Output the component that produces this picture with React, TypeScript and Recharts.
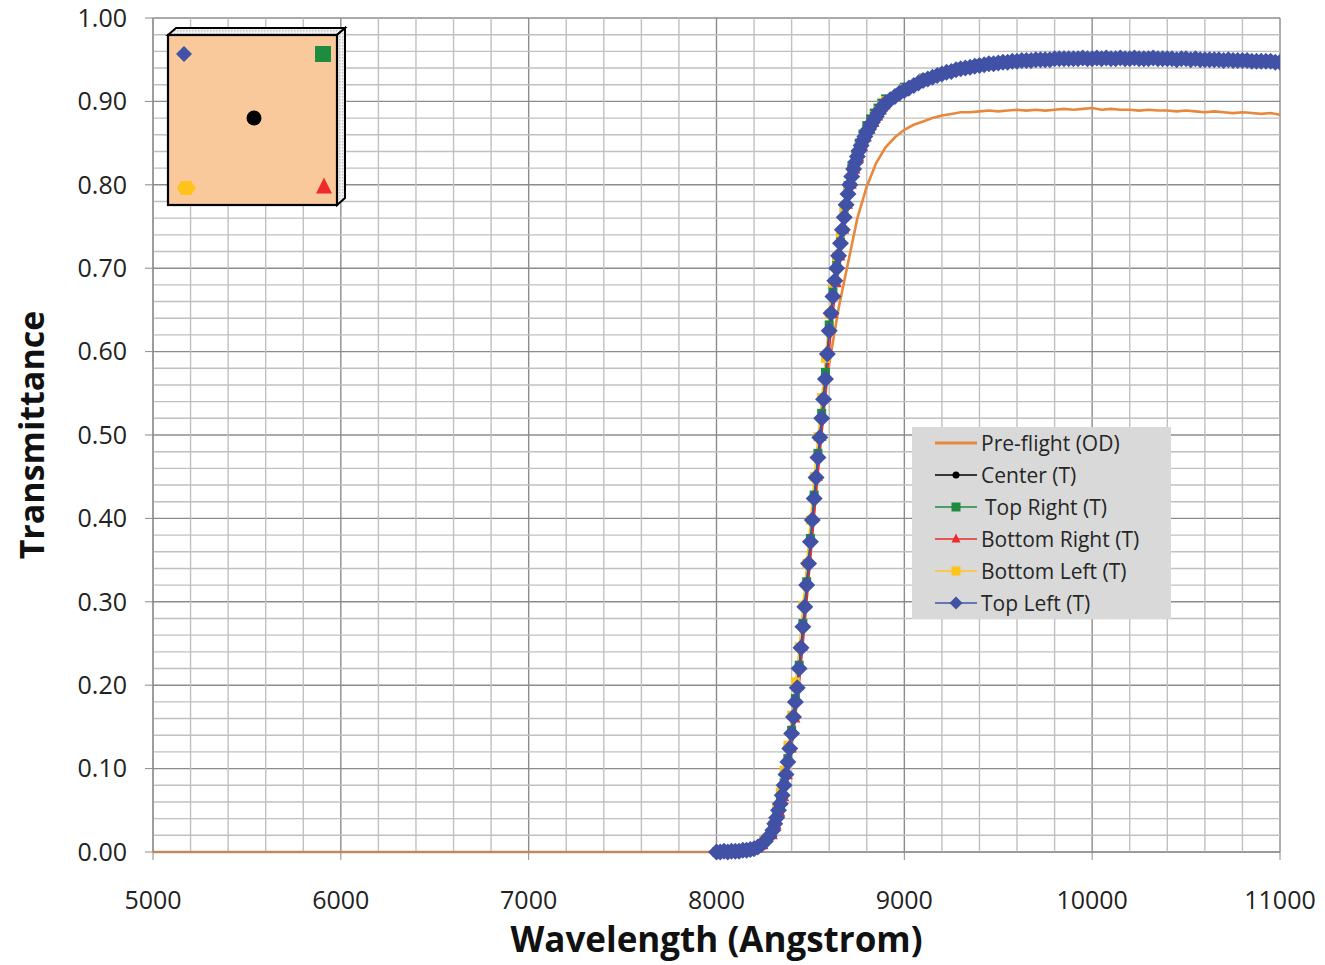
import React from "react";
import { LineChart, Line, XAxis, YAxis, CartesianGrid, ReferenceLine, Legend, Label } from "recharts";

const FONT = "'Open Sans', 'Liberation Sans', sans-serif";

// Pre-flight (OD) curve
const preflightWavelength = [
  5000, 5500, 6000, 6500, 7000, 7500, 8000, 8100, 8200, 8250, 8300, 8350, 8400, 8450, 8500, 8550, 8575,
  8600, 8650, 8700, 8750, 8800, 8850, 8900, 8950, 9000,
  9050, 9100, 9150, 9200, 9250, 9300, 9350, 9400, 9450, 9500,
  9550, 9600, 9650, 9700, 9750, 9800, 9850, 9900, 9950, 10000,
  10050, 10100, 10150, 10200, 10250, 10300, 10350, 10400, 10450, 10500,
  10550, 10600, 10650, 10700, 10750, 10800, 10850, 10900, 10950, 11000,
];
const preflightT = [
  0, 0, 0, 0, 0, 0, 0, 0.0, 0.002, 0.006, 0.022, 0.06, 0.13, 0.238, 0.362, 0.488, 0.54,
  0.585, 0.652, 0.706, 0.76, 0.798, 0.826, 0.845, 0.857, 0.866,
  0.872, 0.876, 0.88, 0.883, 0.885, 0.887, 0.887, 0.888, 0.889, 0.888,
  0.889, 0.89, 0.889, 0.89, 0.889, 0.89, 0.891, 0.89, 0.891, 0.892,
  0.89, 0.891, 0.89, 0.89, 0.889, 0.89, 0.889, 0.889, 0.888, 0.889,
  0.888, 0.887, 0.888, 0.887, 0.886, 0.887, 0.886, 0.885, 0.886, 0.884,
];

// Top Left (T), the densest series, drawn on top
const topLeftWavelength = [
  8000, 8020, 8040, 8060, 8080, 8100, 8120, 8140, 8160, 8180, 8200, 8220, 8240, 8260, 8280, 8300,
  8310, 8320, 8330, 8340, 8350, 8360, 8370, 8380, 8390, 8400,
  8410, 8420, 8430, 8440, 8450, 8460, 8470, 8480, 8490, 8500,
  8510, 8520, 8530, 8540, 8550, 8560, 8570, 8580, 8590, 8600,
  8610, 8620, 8630, 8640, 8650, 8660, 8670, 8680, 8690, 8700,
  8710, 8720, 8730, 8740, 8750, 8760, 8770, 8780, 8790, 8800,
  8810, 8820, 8830, 8840, 8850, 8860, 8870, 8880, 8890, 8900,
  8925, 8950, 8975, 9000, 9025, 9050, 9075, 9100, 9125, 9150,
  9175, 9200, 9225, 9250, 9275, 9300, 9325, 9350, 9375, 9400,
  9425, 9450, 9475, 9500, 9525, 9550, 9575, 9600, 9625, 9650,
  9675, 9700, 9725, 9750, 9775, 9800, 9825, 9850, 9875, 9900,
  9925, 9950, 9975, 10000, 10025, 10050, 10075, 10100, 10125, 10150,
  10175, 10200, 10225, 10250, 10275, 10300, 10325, 10350, 10375, 10400,
  10425, 10450, 10475, 10500, 10525, 10550, 10575, 10600, 10625, 10650,
  10675, 10700, 10725, 10750, 10775, 10800, 10825, 10850, 10875, 10900,
  10925, 10950, 10975, 11000,
];
const topLeftT = [
  0.0, 0.0, 0.001, 0.0, 0.001, 0.001, 0.001, 0.002, 0.002, 0.003, 0.004, 0.006, 0.009, 0.013, 0.019, 0.026,
  0.034, 0.041, 0.05, 0.058, 0.068, 0.08, 0.093, 0.108, 0.124, 0.142,
  0.162, 0.18, 0.197, 0.22, 0.245, 0.27, 0.294, 0.32, 0.346, 0.372,
  0.398, 0.424, 0.449, 0.473, 0.497, 0.52, 0.543, 0.567, 0.597, 0.625,
  0.646, 0.666, 0.685, 0.7, 0.715, 0.73, 0.746, 0.761, 0.776, 0.789,
  0.8, 0.81, 0.819, 0.827, 0.834, 0.841, 0.847, 0.853, 0.858, 0.863,
  0.867, 0.871, 0.875, 0.879, 0.882, 0.886, 0.889, 0.892, 0.895, 0.898,
  0.902, 0.906, 0.91, 0.913, 0.916, 0.919, 0.922, 0.925, 0.927, 0.929,
  0.931, 0.933, 0.935, 0.936, 0.938, 0.939, 0.94, 0.941, 0.942, 0.943,
  0.944, 0.945, 0.945, 0.946, 0.947, 0.947, 0.948, 0.948, 0.949, 0.949,
  0.949, 0.95, 0.95, 0.95, 0.95, 0.951, 0.951, 0.951, 0.951, 0.951,
  0.951, 0.952, 0.951, 0.951, 0.952, 0.951, 0.952, 0.951, 0.951, 0.952,
  0.951, 0.951, 0.952, 0.951, 0.951, 0.951, 0.952, 0.951, 0.951, 0.951,
  0.951, 0.95, 0.951, 0.951, 0.95, 0.951, 0.95, 0.95, 0.95, 0.95,
  0.95, 0.949, 0.95, 0.949, 0.949, 0.949, 0.949, 0.948, 0.948, 0.948,
  0.948, 0.948, 0.947, 0.947,
];

// the other four measurement points, mostly hidden under Top Left
const pointWavelength = [
  8000, 8050, 8100, 8150, 8200, 8250, 8300,
  8320, 8340, 8360, 8380, 8400, 8420, 8440, 8460, 8480, 8500,
  8520, 8540, 8560, 8580, 8600, 8620, 8640, 8660, 8680, 8700,
  8720, 8740, 8760, 8780, 8800, 8820, 8840, 8860, 8880, 8900,
  9000, 9100, 9200, 9300, 9400, 9500, 9600, 9700, 9800, 9900,
  10000, 10100, 10200, 10300, 10400, 10500, 10600, 10700, 10800, 10900, 11000,
];
const centerT = [
  0.0, 0.001, 0.001, 0.002, 0.004, 0.011, 0.027,
  0.042, 0.06, 0.082, 0.11, 0.144, 0.182, 0.222, 0.272, 0.322, 0.374,
  0.426, 0.475, 0.522, 0.57, 0.627, 0.668, 0.702, 0.732, 0.763, 0.791,
  0.812, 0.829, 0.843, 0.855, 0.865, 0.873, 0.881, 0.888, 0.894, 0.9,
  0.914, 0.926, 0.934, 0.94, 0.944, 0.947, 0.949, 0.95, 0.951, 0.951,
  0.952, 0.952, 0.952, 0.951, 0.951, 0.951, 0.95, 0.95, 0.949, 0.948, 0.947,
];
const topRightT = [
  0.0, 0.001, 0.001, 0.002, 0.005, 0.012, 0.028,
  0.043, 0.061, 0.083, 0.112, 0.146, 0.184, 0.224, 0.274, 0.324, 0.376,
  0.428, 0.478, 0.526, 0.575, 0.632, 0.674, 0.709, 0.74, 0.771, 0.799,
  0.82, 0.836, 0.85, 0.861, 0.871, 0.879, 0.886, 0.892, 0.898, 0.903,
  0.917, 0.928, 0.935, 0.941, 0.945, 0.947, 0.949, 0.95, 0.951, 0.951,
  0.951, 0.952, 0.951, 0.951, 0.951, 0.95, 0.95, 0.949, 0.949, 0.948, 0.947,
];
const bottomRightT = [
  0.0, 0.0, 0.001, 0.001, 0.003, 0.008, 0.02,
  0.032, 0.047, 0.066, 0.092, 0.124, 0.16, 0.199, 0.246, 0.296, 0.348,
  0.4, 0.45, 0.498, 0.545, 0.6, 0.645, 0.682, 0.714, 0.746, 0.776,
  0.8, 0.818, 0.833, 0.846, 0.857, 0.866, 0.874, 0.882, 0.889, 0.895,
  0.911, 0.924, 0.933, 0.939, 0.943, 0.946, 0.948, 0.949, 0.95, 0.95,
  0.95, 0.95, 0.95, 0.95, 0.95, 0.949, 0.949, 0.948, 0.947, 0.946, 0.945,
];
const bottomLeftT = [
  0.0, 0.001, 0.001, 0.002, 0.005, 0.014, 0.033,
  0.052, 0.072, 0.098, 0.128, 0.164, 0.204, 0.246, 0.296, 0.346, 0.398,
  0.45, 0.498, 0.545, 0.592, 0.645, 0.682, 0.714, 0.742, 0.771, 0.797,
  0.817, 0.833, 0.846, 0.857, 0.867, 0.875, 0.883, 0.889, 0.895, 0.901,
  0.915, 0.927, 0.935, 0.94, 0.944, 0.947, 0.949, 0.95, 0.951, 0.951,
  0.951, 0.951, 0.951, 0.951, 0.951, 0.95, 0.95, 0.949, 0.948, 0.948, 0.947,
];

const xTicks = [5000, 6000, 7000, 8000, 9000, 10000, 11000];
const yTicks = [0, 0.1, 0.2, 0.3, 0.4, 0.5, 0.6, 0.7, 0.8, 0.9, 1.0];

const ORANGE = "#E8883C";
const BLACK = "#000000";
const GREEN = "#1F8B41";
const RED = "#EE2A2A";
const YELLOW = "#FFC41A";
const BLUE = "#4152A6";

const MAJOR = "#8c8c8c";
const MINOR = "#c0c0c0";

// minor gridlines every 200 A and every 0.02
const xMinor: number[] = [];
for (let v = 5200; v < 11000; v += 200) if (v % 1000 !== 0) xMinor.push(v);
const yMinor: number[] = [];
for (let i = 1; i < 50; i++) if (i % 5 !== 0) yMinor.push(i / 50);

const toPoints = (xs: number[], ys: number[]) => xs.map((x, i) => ({ x, y: ys[i] }));

const preflightData = toPoints(preflightWavelength, preflightT);
const topLeftData = toPoints(topLeftWavelength, topLeftT);
const centerData = toPoints(pointWavelength, centerT);
const topRightData = toPoints(pointWavelength, topRightT);
const bottomRightData = toPoints(pointWavelength, bottomRightT);
const bottomLeftData = toPoints(pointWavelength, bottomLeftT);

type Shape = "none" | "circle" | "square" | "triangle" | "diamond";

function marker(shape: Shape, cx: number, cy: number, r: number, color: string, key?: string | number) {
  if (cx == null || cy == null || shape === "none") return <g key={key} />;
  if (shape === "circle") return <circle key={key} cx={cx} cy={cy} r={r} fill={color} />;
  if (shape === "square")
    return <rect key={key} x={cx - r} y={cy - r} width={2 * r} height={2 * r} fill={color} />;
  if (shape === "triangle")
    return (
      <path key={key} d={`M${cx},${cy - r * 1.2}L${cx + r},${cy + r * 0.8}L${cx - r},${cy + r * 0.8}Z`} fill={color} />
    );
  return <path key={key} d={`M${cx},${cy - r}L${cx + r},${cy}L${cx},${cy + r}L${cx - r},${cy}Z`} fill={color} />;
}

const dotOf = (shape: Shape, r: number, color: string) => (p: any) =>
  marker(shape, p.cx, p.cy, r, color, `${shape}-${p.index}`);

const legendItems: { name: string; color: string; shape: Shape; r: number; indent?: number }[] = [
  { name: "Pre-flight (OD)", color: ORANGE, shape: "none", r: 0 },
  { name: "Center (T)", color: BLACK, shape: "circle", r: 3.5 },
  { name: "Top Right (T)", color: GREEN, shape: "square", r: 4.5, indent: 4 },
  { name: "Bottom Right (T)", color: RED, shape: "triangle", r: 4.5 },
  { name: "Bottom Left (T)", color: YELLOW, shape: "square", r: 4.5 },
  { name: "Top Left (T)", color: BLUE, shape: "diamond", r: 6.5 },
];

function LegendBox() {
  return (
    <div style={{ width: 259, height: 192, background: "#d9d9d9", fontFamily: FONT }}>
      {legendItems.map((it) => (
        <div key={it.name} style={{ height: 32, display: "flex", alignItems: "center" }}>
          <svg width={69} height={32} style={{ flex: "none" }}>
            <line x1={23} x2={65} y1={16} y2={16} stroke={it.color} strokeWidth={it.shape === "none" ? 3 : 1.6} />
            {marker(it.shape, 44, 16, it.r, it.color)}
          </svg>
          <span style={{ fontSize: 21, color: "#262626", marginLeft: it.indent ?? 0, whiteSpace: "nowrap" }}>
            {it.name}
          </span>
        </div>
      ))}
    </div>
  );
}

function Inset() {
  return (
    <svg width={1325} height={965} style={{ position: "absolute", left: 0, top: 0, pointerEvents: "none" }}>
      <defs>
        <pattern id="bevel" width="3" height="3" patternUnits="userSpaceOnUse">
          <rect width="3" height="3" fill="#f2f2f2" />
          <rect width="1.5" height="1.5" fill="#c8c8c8" />
        </pattern>
      </defs>
      <polygon points="168,35 176,28 345,28 337,35" fill="url(#bevel)" stroke="#000" strokeWidth={2} />
      <polygon points="337,35 345,28 345,198 337,205" fill="url(#bevel)" stroke="#000" strokeWidth={2} />
      <rect x={168} y={35} width={169} height={170} fill="#FAC99B" stroke="#000" strokeWidth={2.2} />
      {marker("diamond", 184, 54, 8, BLUE)}
      {marker("square", 323, 54, 8, GREEN)}
      {marker("circle", 254, 118, 7.5, BLACK)}
      <polygon points="177,188 181,181 191,181 196,188 191,195 181,195" fill={YELLOW} />
      {marker("triangle", 324, 187, 8, RED)}
    </svg>
  );
}

export default function App() {
  const tickStyle = { fontSize: 25, fill: "#222", fontFamily: FONT };
  return (
    <div style={{ position: "absolute", left: 0, top: 0, width: 1325, height: 965, background: "#fff" }}>
      <LineChart width={1325} height={965} margin={{ top: 18, right: 45, bottom: 0, left: 0 }}>
        {xMinor.map((v) => (
          <ReferenceLine key={`vx${v}`} x={v} stroke={MINOR} strokeWidth={1.4} />
        ))}
        {yMinor.map((v) => (
          <ReferenceLine key={`hy${v}`} y={v} stroke={MINOR} strokeWidth={1.4} />
        ))}
        <CartesianGrid stroke={MAJOR} strokeWidth={1.4} />
        <XAxis
          type="number"
          dataKey="x"
          domain={[5000, 11000]}
          ticks={xTicks}
          allowDataOverflow
          height={113}
          stroke={MAJOR}
          tickSize={8}
          tickMargin={31}
          tick={tickStyle}
        >
          <Label
            value="Wavelength (Angstrom)"
            position="insideBottom"
            offset={13}
            style={{ fontSize: 35, fontWeight: 700, fill: "#111", fontFamily: FONT }}
          />
        </XAxis>
        <YAxis
          type="number"
          domain={[0, 1]}
          ticks={yTicks}
          width={153}
          stroke={MAJOR}
          tickSize={8}
          tickMargin={18}
          tick={tickStyle}
          tickFormatter={(v: number) => v.toFixed(2)}
        >
          <Label
            value="Transmittance"
            angle={-90}
            position="insideLeft"
            offset={32}
            style={{ fontSize: 34, fontWeight: 700, fill: "#111", fontFamily: FONT, textAnchor: "middle" }}
          />
        </YAxis>
        <Line data={preflightData} dataKey="y" stroke={ORANGE} strokeWidth={2.6} dot={false} activeDot={false} isAnimationActive={false} />
        <Line data={centerData} dataKey="y" stroke={BLACK} strokeWidth={1.6} dot={dotOf("circle", 4, BLACK)} activeDot={false} isAnimationActive={false} />
        <Line data={topRightData} dataKey="y" stroke={GREEN} strokeWidth={1.6} dot={dotOf("square", 4.5, GREEN)} activeDot={false} isAnimationActive={false} />
        <Line data={bottomRightData} dataKey="y" stroke={RED} strokeWidth={1.6} dot={dotOf("triangle", 5, RED)} activeDot={false} isAnimationActive={false} />
        <Line data={bottomLeftData} dataKey="y" stroke={YELLOW} strokeWidth={1.6} dot={dotOf("square", 4.5, YELLOW)} activeDot={false} isAnimationActive={false} />
        <Line data={topLeftData} dataKey="y" stroke={BLUE} strokeWidth={2} dot={dotOf("diamond", 8.5, BLUE)} activeDot={false} isAnimationActive={false} />
        <Legend
          layout="vertical"
          align="center"
          verticalAlign="middle"
          content={() => <LegendBox />}
          wrapperStyle={{ left: 912, top: 427, width: 259, height: 192 }}
        />
      </LineChart>
      <Inset />
    </div>
  );
}
